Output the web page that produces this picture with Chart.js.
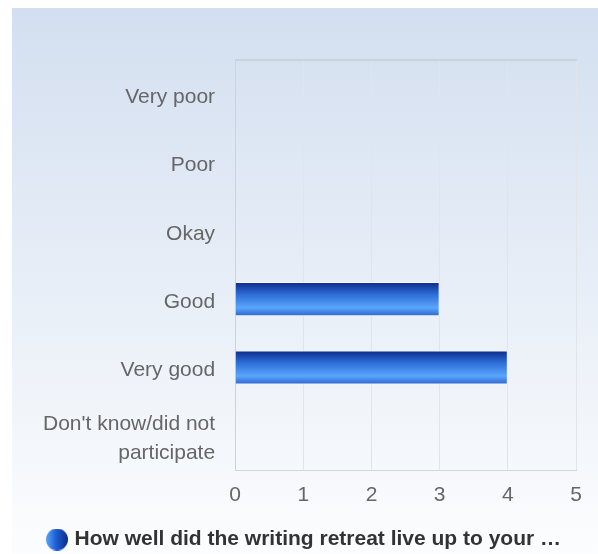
<!DOCTYPE html>
<html>
<head>
<meta charset="utf-8">
<script src="https://cdn.jsdelivr.net/npm/chart.js@4"></script>
<style>
  body { margin: 0; background: #fff; }
  #wrap { width: 598px; height: 554px; }
</style>
</head>
<body>
<div id="wrap"><canvas id="retreat-chart" width="598" height="554"></canvas></div>
<script>
// answer categories (y axis) and the number of responses for each
const categories = ['Very poor', 'Poor', 'Okay', 'Good', 'Very good', ["Don't know/did not", 'participate']];
const responses = [0, 0, 0, 3, 4, 0];
const axisMin = 0;
const axisMax = 5;
const seriesLabel = 'How well did the writing retreat live up to your \u2026';

// round gradient marker for the legend (drawn a bit right of the image centre)
function makeLegendDot() {
    const c = document.createElement('canvas');
    c.width = 34;
    c.height = 22;
    const g = c.getContext('2d');
    const grad = g.createLinearGradient(12, 0, 34, 0);
    grad.addColorStop(0, '#5aa6fb');
    grad.addColorStop(0.45, '#1f5ed2');
    grad.addColorStop(1, '#0b2c8c');
    g.fillStyle = grad;
    g.beginPath();
    g.arc(23, 11, 11, 0, Math.PI * 2);
    g.fill();
    return c;
}

// bar fill: vertical gradient across each bar's thickness
function barFill(ctx) {
    const chart = ctx.chart;
    const y = chart.scales.y;
    if (!y || ctx.dataIndex === undefined) return '#2e6fd8';
    const center = y.getPixelForValue(ctx.dataIndex);
    const half = (y.height / categories.length) * 0.5 / 2;
    if (!isFinite(center) || !isFinite(half) || half <= 0) return '#2e6fd8';
    const grad = chart.ctx.createLinearGradient(0, center - half, 0, center + half);
    grad.addColorStop(0, '#0a2a88');
    grad.addColorStop(0.35, '#2c6bd6');
    grad.addColorStop(0.75, '#5aa6fb');
    grad.addColorStop(1, '#2a62cf');
    return grad;
}

const panelBackground = {
    id: 'panelBackground',
    beforeDraw(chart) {
        const ctx = chart.ctx;
        const grad = ctx.createLinearGradient(0, 8, 0, chart.height);
        grad.addColorStop(0, '#d3dff0');
        grad.addColorStop(1, '#fcfdfe');
        ctx.save();
        ctx.fillStyle = grad;
        ctx.fillRect(12, 8, chart.width - 12, chart.height - 8);
        ctx.restore();
    },
    beforeDatasetsDraw(chart) {
        // top edge of the plot frame
        const a = chart.chartArea;
        const ctx = chart.ctx;
        ctx.save();
        ctx.strokeStyle = '#cdd2d9';
        ctx.lineWidth = 2;
        ctx.beginPath();
        ctx.moveTo(a.left, a.top);
        ctx.lineTo(a.right + 1, a.top);
        ctx.stroke();
        ctx.restore();
    }
};

const chartCtx = document.getElementById('retreat-chart').getContext('2d');
const retreatChart = new Chart(chartCtx, {
    type: 'bar',
    data: {
        labels: categories,
        datasets: [{
            label: seriesLabel,
            data: responses,
            backgroundColor: barFill,
            borderColor: 'rgba(255,255,255,0.7)',
            borderWidth: 1,
            barPercentage: 0.5,
            categoryPercentage: 1
        }]
    },
    plugins: [panelBackground],
    options: {
        indexAxis: 'y',
        responsive: false,
        animation: false,
        layout: {
            padding: { left: 23, right: 22, top: 60, bottom: -6 }
        },
        scales: {
            x: {
                min: axisMin,
                max: axisMax,
                ticks: {
                    stepSize: 1,
                    color: '#666',
                    padding: 13,
                    font: { family: '"Liberation Sans", Arial, sans-serif', size: 21 }
                },
                grid: { color: '#e1e4e9', drawTicks: false },
                border: { color: '#cfd5df' },
                afterFit: function(scale) { scale.height = 59; }
            },
            y: {
                ticks: {
                    color: '#666',
                    padding: 20,
                    labelOffset: 3,
                    font: { family: '"Liberation Sans", Arial, sans-serif', size: 21, lineHeight: 1.4 }
                },
                grid: { display: false, drawTicks: false },
                border: { color: '#c7d3e8' }
            }
        },
        plugins: {
            tooltip: { enabled: false },
            legend: {
                position: 'bottom',
                labels: {
                    usePointStyle: true,
                    pointStyle: makeLegendDot(),
                    pointStyleWidth: 26,
                    boxHeight: 16,
                    color: '#333',
                    padding: 0,
                    font: { family: '"Liberation Sans", Arial, sans-serif', size: 21, weight: 'bold' }
                }
            }
        }
    }
});
</script>
</body>
</html>
